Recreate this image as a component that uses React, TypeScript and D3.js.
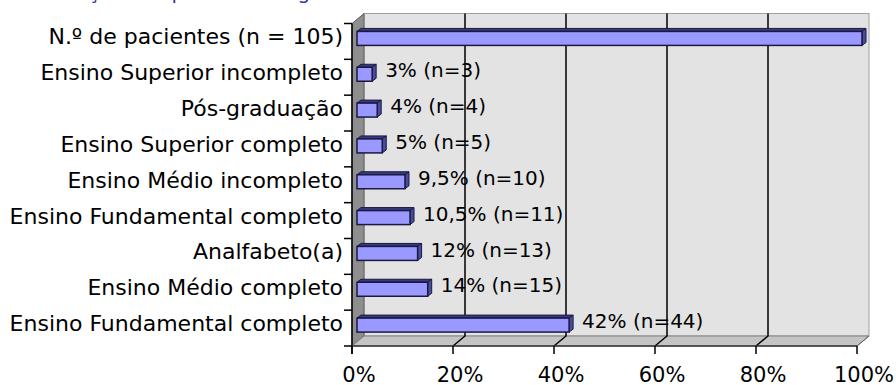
import { useEffect, useRef } from "react";
import * as d3 from "d3";

const categories = [
  "N.º de pacientes (n = 105)",
  "Ensino Superior incompleto",
  "Pós-graduação",
  "Ensino Superior completo",
  "Ensino Médio incompleto",
  "Ensino Fundamental completo",
  "Analfabeto(a)",
  "Ensino Médio completo",
  "Ensino Fundamental completo",
];
const percentages = [100, 3, 4, 5, 9.5, 10.5, 12, 14, 42];
const valueLabels = ["", "3% (n=3)", "4% (n=4)", "5% (n=5)", "9,5% (n=10)", "10,5% (n=11)", "12% (n=13)", "14% (n=15)", "42% (n=44)"];
const tickValues = [0, 20, 40, 60, 80, 100];
const titleText = "Distribuição dos pacientes segundo a escolaridade";

const App = () => {
  const ref = useRef<SVGSVGElement>(null);

  useEffect(() => {
    const width = 896, height = 385;
    const font = "'DejaVu Sans', sans-serif";
    // 3D depth of the walls and of the bars
    const wdx = 12, wdy = -10;
    const bdx = 4, bdy = -3, bdOff = 5;

    const svg = d3.select(ref.current)
      .html("")
      .attr("width", width)
      .attr("height", height);

    const x = d3.scaleLinear().domain([0, 100]).range([352, 857]);
    const y = d3.scaleBand<number>()
      .domain(categories.map((_, i) => i))
      .range([23.5, 346]);
    const bottom = 346, top = 23.5;

    // title, mostly cut off by the top of the picture
    svg.append("text")
      .attr("x", 4)
      .attr("y", -1)
      .text(titleText)
      .style("font-family", font)
      .style("font-size", "20px")
      .attr("fill", "#3333aa");

    const line = d3.line();

    // back wall
    svg.append("rect")
      .attr("x", x(0) + wdx)
      .attr("y", top + wdy)
      .attr("width", x(100) - x(0))
      .attr("height", bottom - top)
      .attr("fill", "#e3e3e3")
      .attr("stroke", "#a0a0a0");

    // left wall
    svg.append("path")
      .attr("d", line([[x(0), top], [x(0) + wdx, top + wdy], [x(0) + wdx, bottom + wdy], [x(0), bottom]]) + "Z")
      .attr("fill", "#8e8e8e")
      .attr("stroke", "#606060");

    // floor
    svg.append("path")
      .attr("d", line([[x(0), bottom], [x(0) + wdx, bottom + wdy], [x(100) + wdx, bottom + wdy], [x(100), bottom]]) + "Z")
      .attr("fill", "#c4c4c4")
      .attr("stroke", "#808080");

    // grid lines on the back wall and across the floor
    const grid = svg.append("g");
    tickValues.filter(t => t > 0 && t < 100).forEach(t => {
      grid.append("path")
        .attr("d", line([[x(t), bottom], [x(t) + wdx, bottom + wdy], [x(t) + wdx, top + wdy]]))
        .attr("fill", "none")
        .attr("stroke", "#000")
        .attr("stroke-width", 1.5);
    });
    grid.append("path")
      .attr("d", line([[x(100), bottom], [x(100) + wdx, bottom + wdy]]))
      .attr("stroke", "#606060");

    // axes
    svg.append("line")
      .attr("x1", x(0)).attr("x2", x(0))
      .attr("y1", top).attr("y2", bottom + 8)
      .attr("stroke", "#000").attr("stroke-width", 1.5);
    svg.append("line")
      .attr("x1", x(0)).attr("x2", x(100))
      .attr("y1", bottom).attr("y2", bottom)
      .attr("stroke", "#333").attr("stroke-width", 1.5);

    svg.append("g").selectAll("line")
      .data(tickValues)
      .enter()
      .append("line")
      .attr("x1", d => x(d)).attr("x2", d => x(d))
      .attr("y1", bottom).attr("y2", bottom + 8)
      .attr("stroke", "#000").attr("stroke-width", 1.5);

    svg.append("g").selectAll("text")
      .data(tickValues)
      .enter()
      .append("text")
      .attr("x", d => x(d) + 7)
      .attr("y", 382)
      .attr("text-anchor", "middle")
      .text(d => `${d}%`)
      .style("font-family", font)
      .style("font-size", "21px")
      .attr("fill", "#000");

    // category ticks on the left
    const bounds = [...y.domain().map(i => y(i) as number), bottom];
    svg.append("g").selectAll("line")
      .data(bounds)
      .enter()
      .append("line")
      .attr("x1", x(0) - 8).attr("x2", x(0))
      .attr("y1", d => d).attr("y2", d => d)
      .attr("stroke", "#000").attr("stroke-width", 1.5);

    svg.append("g").selectAll("text")
      .data(categories)
      .enter()
      .append("text")
      .attr("x", x(0) - 9)
      .attr("y", (_, i) => (y(i) as number) + y.bandwidth() / 2 - 5)
      .attr("dy", "0.36em")
      .attr("text-anchor", "end")
      .text(d => d)
      .style("font-family", font)
      .style("font-size", "22px")
      .attr("fill", "#000");

    // bars
    const barH = 14;
    const bars = svg.append("g").selectAll("g")
      .data(percentages)
      .enter()
      .append("g");

    const bx0 = x(0) + bdOff;
    const by = (i: number) => (y(i) as number) + (y.bandwidth() - barH) / 2 - 3;

    bars.append("path")
      .attr("d", (d, i) => {
        const x1 = x(d) + bdOff, y0 = by(i);
        return line([[bx0, y0], [bx0 + bdx, y0 + bdy], [x1 + bdx, y0 + bdy], [x1, y0]]) + "Z";
      })
      .attr("fill", "#3a3a80")
      .attr("stroke", "#1a1a40");

    bars.append("path")
      .attr("d", (d, i) => {
        const x1 = x(d) + bdOff, y0 = by(i);
        return line([[x1, y0], [x1 + bdx, y0 + bdy], [x1 + bdx, y0 + bdy + barH], [x1, y0 + barH]]) + "Z";
      })
      .attr("fill", "#4a4aa0")
      .attr("stroke", "#1a1a40");

    bars.append("rect")
      .attr("x", bx0)
      .attr("y", (_, i) => by(i))
      .attr("width", d => x(d) - x(0))
      .attr("height", barH)
      .attr("fill", "#9999ff")
      .attr("stroke", "#1a1a40")
      .attr("stroke-width", 1.5);

    bars.append("text")
      .attr("x", d => x(d) + bdOff + 13)
      .attr("y", (_, i) => by(i) + barH / 2 - 4)
      .attr("dy", "0.36em")
      .text((_, i) => valueLabels[i])
      .style("font-family", font)
      .style("font-size", "20px")
      .attr("fill", "#000");
  }, []);

  return <svg ref={ref} style={{ position: "absolute", left: 0, top: 0 }}></svg>;
};

export default App;
